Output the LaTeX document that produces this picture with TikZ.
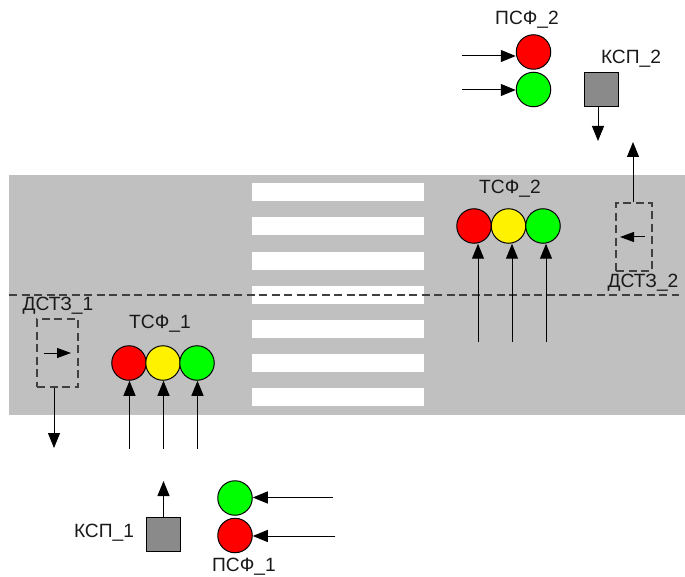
\documentclass[tikz,border=0pt]{standalone}
\usepackage{fontspec}
\setmainfont{Liberation Sans}
\usetikzlibrary{arrows.meta}
\definecolor{road}{HTML}{C0C0C0}
\definecolor{box}{HTML}{8A8A8A}
\definecolor{lampgreen}{HTML}{00FF00}
\tikzset{
    lamp/.style={circle,draw,line width=1pt,minimum size=34.5pt,inner sep=0pt},
    knob/.style={draw,line width=1pt,fill=box,minimum size=34pt,inner sep=0pt},
    zone/.style={draw=black!75,dashed,dash pattern=on 8pt off 4.5pt,line width=1.1pt,inner sep=0pt},
    lbl/.style={font=\fontsize{19.2}{22}\selectfont,text=black!90,inner sep=0pt},
    arr/.style={line width=1pt,-{Triangle[length=15pt,width=12pt]}},
    smallarr/.style={line width=1pt,-{Triangle[length=14pt,width=10pt]}}
}
\begin{document}
\begin{tikzpicture}[x=1pt,y=-1pt]
    \useasboundingbox (0,0) rectangle (685,577);
    \fill[road] (9,175) rectangle (685,415);
    \foreach \y in {183,217,252,286,320,354,388} {
        \fill[white] (252,\y) rectangle (424,\y+18);
    }
    \draw[black!75,dashed,dash pattern=on 8pt off 4.5pt,line width=1.1pt] (9,295) -- (679,295);
    % traffic lights
    \foreach \name/\x/\col in {r/129/red,y/163/yellow,g/197/lampgreen} {
        \node[lamp,fill=\col] (tsfa\name) at (\x,363) {};
    }
    \foreach \name/\x/\col in {r/474/red,y/508.5/yellow,g/543/lampgreen} {
        \node[lamp,fill=\col] (tsfb\name) at (\x,226) {};
    }
    \node[lbl] (tsfalabel) at (160,324) {ТСФ\_1};
    \node[lbl] (tsfblabel) at (510,189) {ТСФ\_2};
    % pedestrian lights
    \node[lamp,fill=red] (psfbr) at (533.5,52) {};
    \node[lamp,fill=lampgreen] (psfbg) at (533.5,89.5) {};
    \node[lamp,fill=lampgreen] (psfag) at (235,498) {};
    \node[lamp,fill=red] (psfar) at (235,535.5) {};
    \node[lbl] (psfblabel) at (527,20) {ПСФ\_2};
    \node[lbl] (psfalabel) at (244,567) {ПСФ\_1};
    % buttons
    \node[knob] (kspb) at (601.5,89.5) {};
    \node[knob] (kspa) at (163.5,534) {};
    \node[lbl] (kspblabel) at (631,59) {КСП\_2};
    \node[lbl] (kspalabel) at (104,533) {КСП\_1};
    % detectors
    \node[zone,minimum width=36pt,minimum height=68pt] (dstb) at (634,237) {};
    \node[zone,minimum width=41pt,minimum height=68pt] (dsta) at (57.5,353) {};
    \node[lbl] (dstblabel) at (643,283) {ДСТЗ\_2};
    \node[lbl] (dstalabel) at (58,306) {ДСТЗ\_1};
    % free ends
    \foreach \name/\x in {r/129.5,y/163.5,g/197.5} {
        \coordinate (ina\name) at (\x,449);
        \draw[arr] (ina\name) -- (ina\name |- tsfa\name.south);
    }
    \foreach \name/\x in {r/478,y/512,g/546} {
        \coordinate (inb\name) at (\x,342);
        \draw[arr] (inb\name) -- (inb\name |- tsfb\name.south);
    }
    \coordinate (pba) at (462,56);
    \coordinate (pbb) at (462,90);
    \coordinate (paa) at (333,497.5);
    \coordinate (pab) at (335,536);
    \draw[arr] (pba) -- (pba -| psfbr.west);
    \draw[arr] (pbb) -- (pbb -| psfbg.west);
    \draw[arr] (paa) -- (paa -| psfag.east);
    \draw[arr] (pab) -- (pab -| psfar.east);
    \coordinate (kbout) at (598,141);
    \coordinate (kaout) at (163.5,481);
    \coordinate (dbout) at (633,142);
    \coordinate (daout) at (54,448);
    \draw[arr] (kbout |- kspb.south) -- (kbout);
    \draw[arr] (kspa.north) -- (kaout);
    \draw[arr] (dbout |- dstb.north) -- (dbout);
    \draw[arr] (daout |- dsta.south) -- (daout);
    % arrows inside the detectors
    \coordinate (dbs) at (645,237);
    \coordinate (dbe) at (620,237);
    \coordinate (das) at (43.5,353);
    \coordinate (dae) at (71,353);
    \draw[smallarr] (dbs) -- (dbe);
    \draw[smallarr] (das) -- (dae);
\end{tikzpicture}
\end{document}
